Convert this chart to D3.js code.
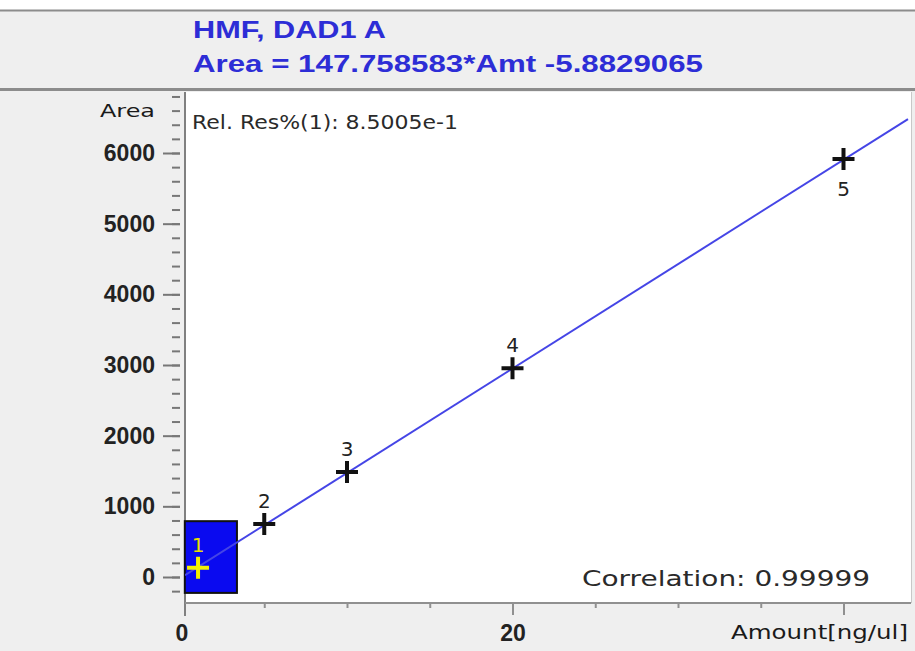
<!DOCTYPE html>
<html>
<head>
<meta charset="utf-8">
<script src="https://cdn.jsdelivr.net/npm/d3@7"></script>
<style>
  html, body { margin: 0; padding: 0; background: #fff; }
  svg { display: block; }
</style>
</head>
<body>
<script>
// calibration data
const amounts = [1, 5, 10, 20, 40];
const areas = [130, 750, 1485, 2955, 5915];
const pointIds = ['1', '2', '3', '4', '5'];
const labelSide = ['above', 'above', 'above', 'above', 'below'];
const selectedIdx = 0;
const slope = 147.758583, intercept = -5.8829065;
const yMajorTicks = [0, 1000, 2000, 3000, 4000, 5000, 6000];
const yMinorTicks = d3.range(-200, 6801, 200);
const xMinorTicks = [5, 10, 15, 20, 25, 30, 35, 40];
const xMajorTicks = [20, 40];
const xTickLabels = [0, 20];
// selection box around point 1 (amount / area units)
const selBox = {x0: 0.2, x1: 3.35, y0: -225, y1: 790};

const W = 915, H = 651;
const PLOT = {left: 185, right: 911, top: 92, bottom: 603};

let svg = d3.select('body').append('svg').attr('width', W).attr('height', H)
  .style('font-family', 'Liberation Sans, Arial, sans-serif');

let x = d3.scaleLinear().domain([0, 40]).range([181.5, 843.5]);
let y = d3.scaleLinear().domain([0, 6000]).range([577, 153]);

// backgrounds
svg.append('rect').attr('x', 0).attr('y', 11).attr('width', W).attr('height', H - 11).attr('fill', '#efefef');
svg.append('rect').attr('x', 0).attr('y', 0).attr('width', W).attr('height', 10).attr('fill', '#fff');
svg.append('line').attr('x1', 0).attr('x2', W).attr('y1', 10.5).attr('y2', 10.5)
  .attr('stroke', '#8c8c8c').attr('stroke-width', 2);
svg.append('line').attr('x1', 0).attr('x2', W).attr('y1', 89.5).attr('y2', 89.5)
  .attr('stroke', '#8c8c8c').attr('stroke-width', 3);
svg.append('rect').attr('x', PLOT.left).attr('y', PLOT.top)
  .attr('width', PLOT.right - PLOT.left).attr('height', PLOT.bottom - PLOT.top)
  .attr('fill', '#fff');
svg.append('line').attr('x1', PLOT.right + 0.5).attr('x2', PLOT.right + 0.5)
  .attr('y1', PLOT.top).attr('y2', PLOT.bottom).attr('stroke', '#c8c8c8');

// header
const blue = '#2d2dd6';
svg.append('text').attr('x', 193).attr('y', 38).text('HMF, DAD1 A')
  .attr('fill', blue).attr('font-size', 23).attr('font-weight', 'bold')
  .attr('textLength', 193).attr('lengthAdjust', 'spacingAndGlyphs');
svg.append('text').attr('x', 193).attr('y', 72).text('Area = 147.758583*Amt -5.8829065')
  .attr('fill', blue).attr('font-size', 23).attr('font-weight', 'bold')
  .attr('textLength', 510).attr('lengthAdjust', 'spacingAndGlyphs');

// y axis: minor + major ticks
let yMinor = d3.axisLeft(y).tickValues(yMinorTicks).tickSize(8).tickFormat('');
let gyMinor = svg.append('g').attr('transform', 'translate(180,0)').call(yMinor);
let yMajor = d3.axisLeft(y).tickValues(yMajorTicks).tickSize(17).tickPadding(8).tickFormat(d3.format('d'));
let gyMajor = svg.append('g').attr('transform', 'translate(180,0)').call(yMajor);
[gyMinor, gyMajor].forEach(g => {
  g.select('.domain').remove();
  g.selectAll('line').attr('stroke', '#777').attr('stroke-width', 2);
});
gyMajor.selectAll('text').attr('font-size', 23).attr('font-weight', 'bold')
  .attr('fill', '#222').attr('font-family', 'Liberation Sans, Arial, sans-serif');

svg.append('text').attr('x', 155).attr('y', 117).attr('text-anchor', 'end').text('Area')
  .attr('font-family', 'DejaVu Sans, sans-serif').attr('font-size', 18).attr('fill', '#1a1a1a')
  .attr('textLength', 55).attr('lengthAdjust', 'spacingAndGlyphs');

// plot border lines (axes)
svg.append('line').attr('x1', PLOT.left).attr('x2', PLOT.left).attr('y1', PLOT.top).attr('y2', 616)
  .attr('stroke', '#808080').attr('stroke-width', 2);
svg.append('line').attr('x1', PLOT.left).attr('x2', PLOT.right).attr('y1', PLOT.bottom).attr('y2', PLOT.bottom)
  .attr('stroke', '#909090').attr('stroke-width', 2);

// x axis ticks
let xMinor = d3.axisBottom(x).tickValues(xMinorTicks).tickSize(5).tickFormat('');
let gxMinor = svg.append('g').attr('transform', 'translate(0,' + PLOT.bottom + ')').call(xMinor);
let xMajor = d3.axisBottom(x).tickValues(xMajorTicks).tickSize(12).tickFormat('');
let gxMajor = svg.append('g').attr('transform', 'translate(0,' + PLOT.bottom + ')').call(xMajor);
let xLab = d3.axisBottom(x).tickValues(xTickLabels).tickSize(0).tickPadding(22).tickFormat(d3.format('d'));
let gxLab = svg.append('g').attr('transform', 'translate(0,' + PLOT.bottom + ')').call(xLab);
[gxMinor, gxMajor, gxLab].forEach(g => {
  g.select('.domain').remove();
  g.selectAll('line').attr('stroke', '#909090').attr('stroke-width', 2);
});
gxLab.selectAll('line').remove();
gxLab.selectAll('text').attr('font-size', 23).attr('font-weight', 'bold').attr('fill', '#222')
  .attr('font-family', 'Liberation Sans, Arial, sans-serif');

svg.append('text').attr('x', 908).attr('y', 639).attr('text-anchor', 'end').text('Amount[ng/ul]')
  .attr('font-family', 'DejaVu Sans, sans-serif').attr('font-size', 19).attr('fill', '#1a1a1a')
  .attr('textLength', 177).attr('lengthAdjust', 'spacingAndGlyphs');

// info texts
svg.append('text').attr('x', 192).attr('y', 129).text('Rel. Res%(1): 8.5005e-1')
  .attr('font-family', 'DejaVu Sans, sans-serif').attr('font-size', 20).attr('fill', '#2a2a2a')
  .attr('textLength', 266).attr('lengthAdjust', 'spacingAndGlyphs');
svg.append('text').attr('x', 582).attr('y', 586).text('Correlation: 0.99999')
  .attr('font-family', 'DejaVu Sans, sans-serif').attr('font-size', 22).attr('fill', '#2a2a2a')
  .attr('textLength', 288).attr('lengthAdjust', 'spacingAndGlyphs');

// selection box
svg.append('rect')
  .attr('x', x(selBox.x0)).attr('y', y(selBox.y1))
  .attr('width', x(selBox.x1) - x(selBox.x0)).attr('height', y(selBox.y0) - y(selBox.y1))
  .attr('fill', '#0a0af0').attr('stroke', '#111').attr('stroke-width', 2);

// regression line
let clip = svg.append('clipPath').attr('id', 'plotclip').append('rect')
  .attr('x', PLOT.left).attr('y', PLOT.top)
  .attr('width', PLOT.right - PLOT.left).attr('height', PLOT.bottom - PLOT.top);
let xs = [x.invert(PLOT.left), x.invert(908)];
svg.append('path')
  .datum(xs.map(a => [a, slope * a + intercept]))
  .attr('clip-path', 'url(#plotclip)')
  .attr('d', d3.line().x(d => x(d[0])).y(d => y(d[1])))
  .attr('fill', 'none').attr('stroke', '#4545e6').attr('stroke-width', 2);

// points
let pts = amounts.map((a, i) => ({a: a, v: areas[i], id: pointIds[i], side: labelSide[i], sel: i === selectedIdx}));
let g = svg.append('g');
let p = g.selectAll('.point').data(pts).enter().append('g').attr('class', 'point')
  .attr('transform', d => 'translate(' + x(d.a) + ',' + y(d.v) + ')');
p.append('path').attr('d', 'M-11,0H11M0,-11V11')
  .attr('stroke', d => d.sel ? '#f4f000' : '#111').attr('stroke-width', 4).attr('fill', 'none');
p.append('text').text(d => d.id)
  .attr('text-anchor', 'middle')
  .attr('y', d => d.side === 'above' ? -16 : 37)
  .attr('font-family', 'DejaVu Sans, sans-serif').attr('font-size', 20)
  .attr('fill', d => d.sel ? '#e8e000' : '#222');
</script>
</body>
</html>
